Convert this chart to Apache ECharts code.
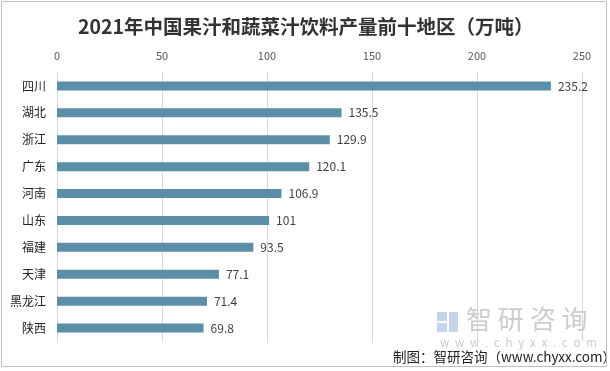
<!DOCTYPE html>
<html><head><meta charset="utf-8">
<script src="https://cdn.jsdelivr.net/npm/echarts@6/dist/echarts.min.js"></script>
<style>html,body{margin:0;padding:0;background:#fff}#c{width:610px;height:371px}</style>
</head><body><div id="c"></div>
<script>
const categories = ['四川','湖北','浙江','广东','河南','山东','福建','天津','黑龙江','陕西'];
const values = [235.2,135.5,129.9,120.1,106.9,101,93.5,77.1,71.4,69.8];
const xTicks = [0,50,100,150,200,250];
const titleText = '2021年中国果汁和蔬菜汁饮料产量前十地区（万吨）';
const sourceText = '制图：智研咨询（www.chyxx.com）';
const watermarkName = '智 研 咨 询';
const watermarkUrl = 'w\u2002w\u2002w\u2002.\u2002c\u2002h\u2002y\u2002x\u2002x\u2002.\u2002c\u2002o\u2002m';

const chart = echarts.init(document.getElementById('c'));
const font = '"Noto Sans CJK SC", "Microsoft YaHei", sans-serif';
chart.setOption({
  animation: false,
  textStyle: {fontFamily: font},
  title: {text: titleText, left: 73, top: 12,
    textStyle: {fontSize: 19.5, fontWeight: 'bold', color: '#333', fontFamily: font}},
  grid: {left: 57, right: 28, top: 72.5, bottom: 29.5},
  xAxis: {type: 'value', position: 'top', min: xTicks[0], max: xTicks[xTicks.length-1], interval: 50,
    axisLine: {show: false}, axisTick: {show: false},
    axisLabel: {color: '#595959', fontSize: 11, margin: 11},
    splitLine: {lineStyle: {color: '#d9d9d9', width: 1}}},
  yAxis: {type: 'category', data: categories, inverse: true,
    axisLine: {show: false}, axisTick: {show: false},
    axisLabel: {color: '#222', fontSize: 12, margin: 11}},
  series: [{type: 'bar', data: values, barWidth: 9,
    itemStyle: {color: '#5b8fa7'},
    label: {show: true, position: 'right', distance: 7, color: '#404040', fontSize: 12}}],
  graphic: [
    {type: 'rect', shape: {x: 1.5, y: 1.5, width: 605, height: 365}, style: {fill: 'none', stroke: '#bfbfbf', lineWidth: 1}, z: 100},
    {type: 'rect', shape: {x: 437, y: 312, width: 10, height: 9}, style: {fill: '#c3d5ea'}, z: 1},
    {type: 'rect', shape: {x: 449, y: 312, width: 9, height: 20}, style: {fill: '#c3d5ea'}, z: 1},
    {type: 'rect', shape: {x: 437, y: 323, width: 10, height: 9}, style: {fill: '#c3d5ea'}, z: 1},
    {type: 'text', left: 466, top: 306, style: {text: watermarkName, fill: '#cccccc', fontSize: 26, fontFamily: font}, z: 1},
    {type: 'text', left: 440, top: 337, style: {text: watermarkUrl, fill: '#cccccc', fontSize: 11.5, fontFamily: font}, z: 1},
    {type: 'text', left: 393, top: 350, style: {text: sourceText, fill: '#222', fontSize: 13.5, fontFamily: font}, z: 10}
  ]
});
</script></body></html>
